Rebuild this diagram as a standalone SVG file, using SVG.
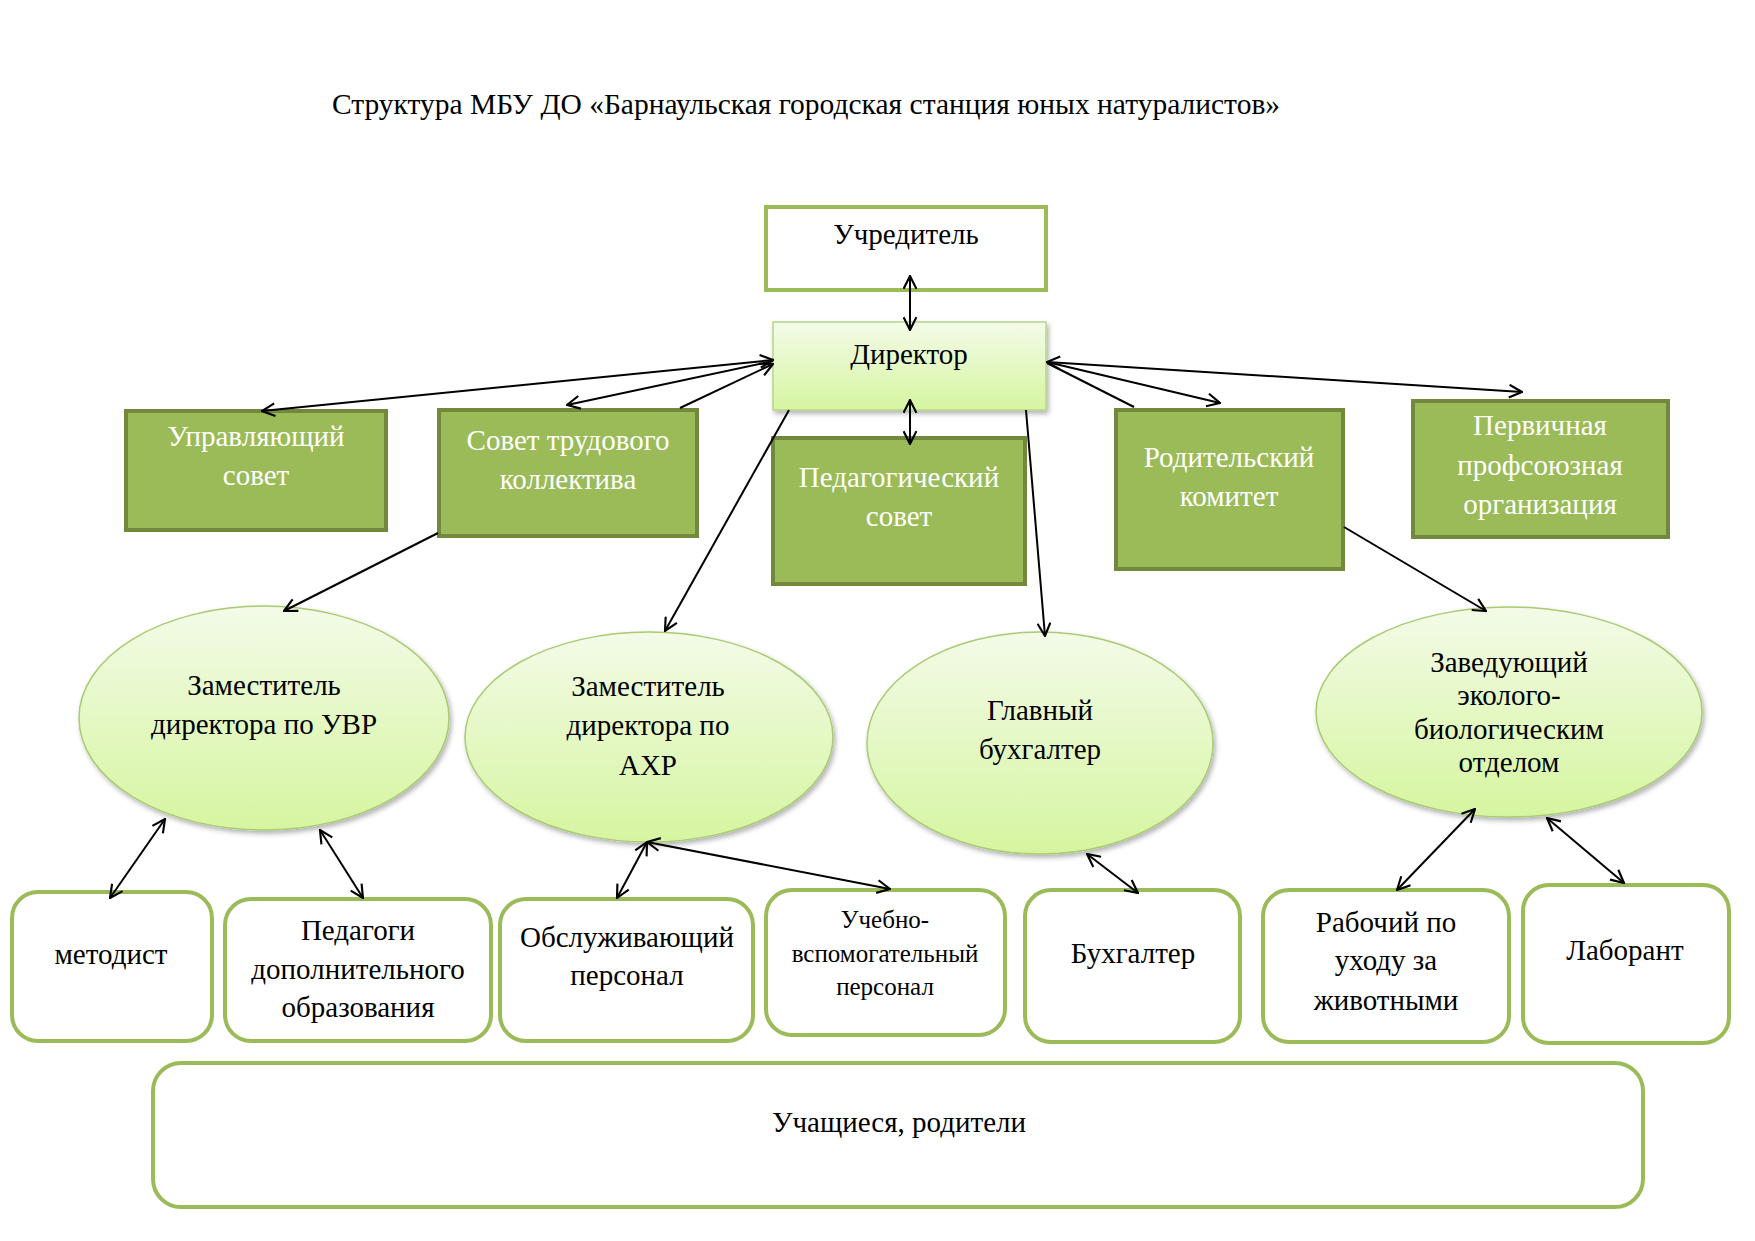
<svg xmlns="http://www.w3.org/2000/svg" width="1755" height="1241" viewBox="0 0 1755 1241">
<defs>
<style>
text{font-family:"Liberation Serif","Times New Roman",serif;font-size:29px;fill:#000;text-anchor:middle}
.w{fill:#fff}
.dk{fill:#9BBB59;stroke:#72893D;stroke-width:4}
.lt{fill:#fff;stroke:#9BBB59;stroke-width:4}
.rb{fill:#fff;stroke:#9BBB59;stroke-width:4}
.el{fill:url(#g);stroke:#A9CB73;stroke-width:1.5;filter:url(#sh)}
.c{stroke:#000;stroke-width:2;fill:none}
.sm{font-size:25px}
</style>
<linearGradient id="g" x1="0" y1="0" x2="0" y2="1">
<stop offset="0" stop-color="#F3FBE8"/>
<stop offset="1" stop-color="#D6F5A0"/>
</linearGradient>
<filter id="sh" x="-10%" y="-10%" width="125%" height="130%">
<feDropShadow dx="2" dy="3" stdDeviation="2.5" flood-color="#000" flood-opacity="0.3"/>
</filter>
<marker id="a" viewBox="0 0 14 14" refX="13" refY="7" markerWidth="15" markerHeight="15" orient="auto-start-reverse" markerUnits="userSpaceOnUse">
<path d="M1,1 L13,7 L1,13" fill="none" stroke="#000" stroke-width="2"/>
</marker>
</defs>
<rect width="1755" height="1241" fill="#fff"/>
<text x="806" y="114" style="font-size:29.5px">Структура МБУ ДО «Барнаульская городская станция юных натуралистов»</text>

<g id="n-uchreditel"><rect class="lt" x="766" y="207" width="280" height="83"/><text x="906" y="244">Учредитель</text></g>
<g id="n-direktor"><rect x="773" y="322" width="273" height="88" fill="url(#g)" stroke="#B5D68A" stroke-width="1.5" filter="url(#sh)"/><text x="909" y="364">Директор</text></g>
<g id="n-upr"><rect class="dk" x="126" y="411" width="260" height="119"/><text class="w" x="256" y="446">Управляющий</text><text class="w" x="256" y="485">совет</text></g>
<g id="n-stk"><rect class="dk" x="439" y="410" width="258" height="126"/><text class="w" x="568" y="450">Совет трудового</text><text class="w" x="568" y="489">коллектива</text></g>
<g id="n-ped"><rect class="dk" x="773" y="438" width="252" height="146"/><text class="w" x="899" y="487">Педагогический</text><text class="w" x="899" y="526">совет</text></g>
<g id="n-rod"><rect class="dk" x="1116" y="410" width="227" height="159"/><text class="w" x="1229" y="467">Родительский</text><text class="w" x="1229" y="506">комитет</text></g>
<g id="n-prof"><rect class="dk" x="1413" y="401" width="255" height="136"/><text class="w" x="1540" y="435">Первичная</text><text class="w" x="1540" y="475">профсоюзная</text><text class="w" x="1540" y="514">организация</text></g>

<g id="n-uvr"><ellipse class="el" cx="264" cy="718" rx="185" ry="112"/><text x="264" y="695">Заместитель</text><text x="264" y="734">директора по УВР</text></g>
<g id="n-ahr"><ellipse class="el" cx="649" cy="737" rx="184" ry="105"/><text x="648" y="696">Заместитель</text><text x="648" y="735">директора по</text><text x="648" y="775">АХР</text></g>
<g id="n-gb"><ellipse class="el" cx="1040" cy="743" rx="173" ry="111"/><text x="1040" y="720">Главный</text><text x="1040" y="759">бухгалтер</text></g>
<g id="n-zav"><ellipse class="el" cx="1509" cy="712" rx="193" ry="105"/><text x="1509" y="672">Заведующий</text><text x="1509" y="705">эколого-</text><text x="1509" y="739">биологическим</text><text x="1509" y="772">отделом</text></g>

<g id="n-met"><rect class="rb" x="12" y="892" width="200" height="149" rx="26"/><text x="111" y="964">методист</text></g>
<g id="n-pdo"><rect class="rb" x="225" y="899" width="266" height="142" rx="26"/><text x="358" y="940">Педагоги</text><text x="358" y="979">дополнительного</text><text x="358" y="1017">образования</text></g>
<g id="n-obs"><rect class="rb" x="500" y="899" width="253" height="142" rx="26"/><text x="627" y="947">Обслуживающий</text><text x="627" y="985">персонал</text></g>
<g id="n-uvp"><rect class="rb" x="766" y="890" width="239" height="145" rx="26"/><text class="sm" x="885" y="928">Учебно-</text><text class="sm" x="885" y="962">вспомогательный</text><text class="sm" x="885" y="995">персонал</text></g>
<g id="n-buh"><rect class="rb" x="1025" y="890" width="215" height="152" rx="26"/><text x="1133" y="963">Бухгалтер</text></g>
<g id="n-rab"><rect class="rb" x="1263" y="890" width="246" height="152" rx="26"/><text x="1386" y="932">Рабочий по</text><text x="1386" y="970">уходу за</text><text x="1386" y="1010">животными</text></g>
<g id="n-lab"><rect class="rb" x="1523" y="885" width="206" height="158" rx="26"/><text x="1625" y="960">Лаборант</text></g>
<g id="n-uch"><rect class="rb" x="153" y="1063" width="1490" height="144" rx="28"/><text x="899" y="1132">Учащиеся, родители</text></g>

<g id="connectors" class="c">
<line class="c" x1="910" y1="276" x2="910" y2="330" marker-start="url(#a)" marker-end="url(#a)"/>
<line class="c" x1="910" y1="400" x2="910" y2="444" marker-start="url(#a)" marker-end="url(#a)"/>
<line class="c" x1="773" y1="360" x2="262" y2="411" marker-start="url(#a)" marker-end="url(#a)"/>
<line class="c" x1="773" y1="361" x2="567" y2="405" marker-end="url(#a)"/>
<line class="c" x1="680" y1="408" x2="773" y2="364" marker-end="url(#a)"/>
<line class="c" x1="1047" y1="362" x2="1522" y2="392" marker-start="url(#a)" marker-end="url(#a)"/>
<line class="c" x1="1047" y1="362" x2="1220" y2="403" marker-end="url(#a)"/>
<line class="c" x1="1134" y1="407" x2="1047" y2="363"/>
<line class="c" x1="789" y1="410" x2="665" y2="631" marker-end="url(#a)"/>
<line class="c" x1="1026" y1="410" x2="1045" y2="636" marker-end="url(#a)"/>
<line class="c" x1="438" y1="533" x2="284" y2="611" marker-end="url(#a)"/>
<line class="c" x1="1344" y1="527" x2="1486" y2="611" marker-end="url(#a)"/>
<line class="c" x1="165" y1="819" x2="110" y2="898" marker-start="url(#a)" marker-end="url(#a)"/>
<line class="c" x1="320" y1="830" x2="363" y2="898" marker-start="url(#a)" marker-end="url(#a)"/>
<line class="c" x1="647" y1="842" x2="617" y2="898" marker-start="url(#a)" marker-end="url(#a)"/>
<line class="c" x1="647" y1="842" x2="890" y2="889" marker-start="url(#a)" marker-end="url(#a)"/>
<line class="c" x1="1087" y1="854" x2="1138" y2="893" marker-start="url(#a)" marker-end="url(#a)"/>
<line class="c" x1="1475" y1="809" x2="1397" y2="890" marker-start="url(#a)" marker-end="url(#a)"/>
<line class="c" x1="1547" y1="818" x2="1624" y2="883" marker-start="url(#a)" marker-end="url(#a)"/>
</g>
</svg>
